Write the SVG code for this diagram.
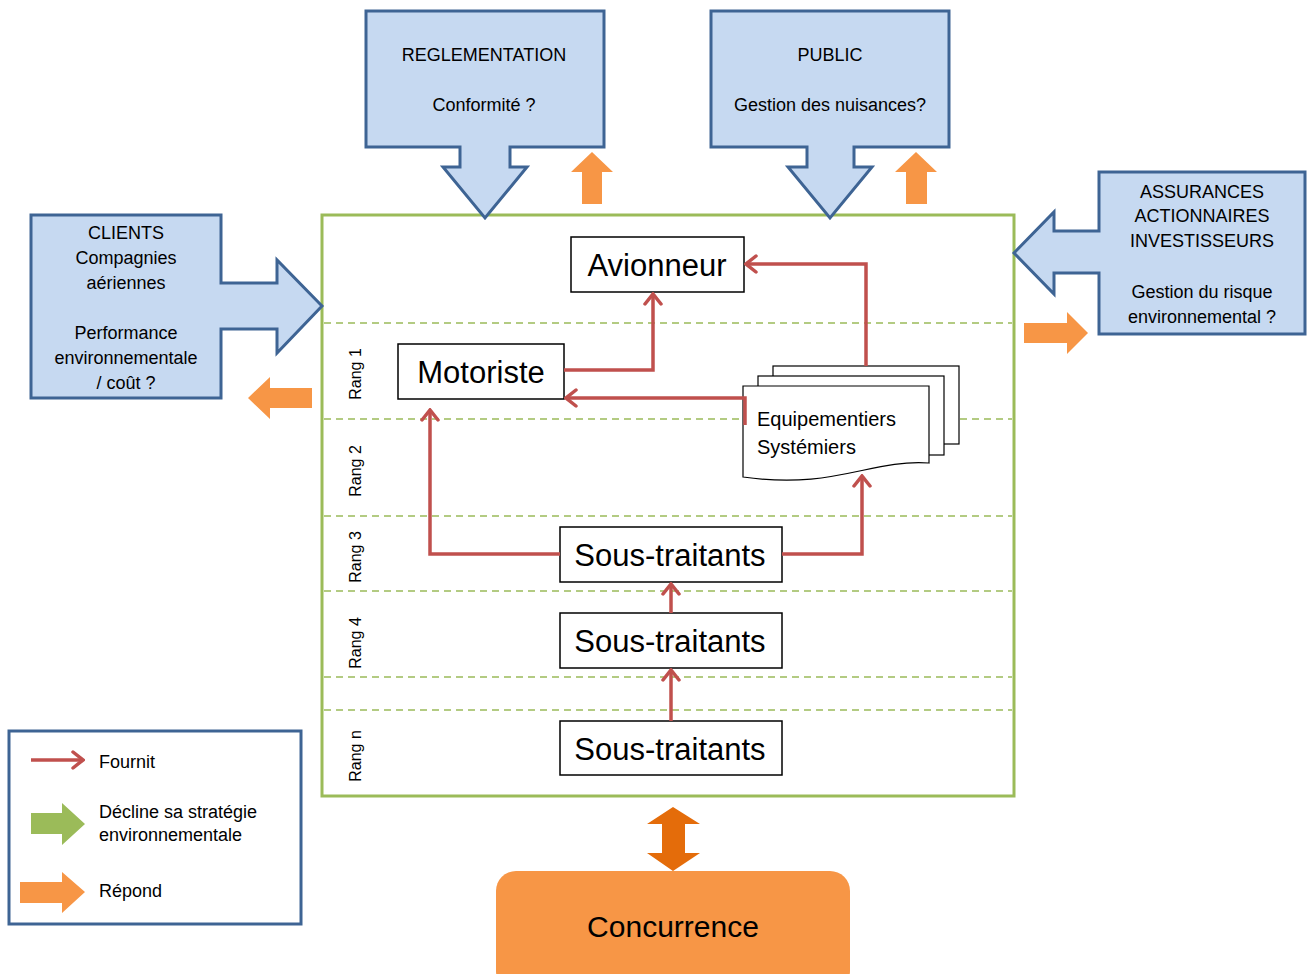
<svg xmlns="http://www.w3.org/2000/svg" width="1312" height="974" viewBox="0 0 1312 974">
<style>
text{font-family:"Liberation Sans",Arial,sans-serif;fill:#000}
.call{fill:#C6D9F1;stroke:#3E6494;stroke-width:3;stroke-linejoin:miter}
.t18{font-size:18px;text-anchor:middle}
.big{font-size:31px;text-anchor:middle}
.box{fill:#fff;stroke:#000;stroke-width:1.5}
.doc{fill:#fff;stroke:#000;stroke-width:1.2}
.sep{stroke:#9BBB59;stroke-width:1.5;stroke-dasharray:7 5;fill:none}
.rang{font-size:16px;text-anchor:middle}
.red{fill:none;stroke:#C0504D;stroke-width:3.5;marker-end:url(#ah)}
.orange{fill:#F79646}
.leg{font-size:18px}
</style>
<defs>
<marker id="ah" markerUnits="userSpaceOnUse" viewBox="-14 -10 16 20" markerWidth="16" markerHeight="20" refX="0" refY="0" orient="auto">
<path d="M-10 -8 L0 0 L-10 8" fill="none" stroke="#C0504D" stroke-width="3.5" stroke-linecap="round"/>
</marker>
</defs>

<!-- main frame -->
<g id="frame">
<rect x="322" y="215" width="692" height="581" fill="#fff" stroke="#9BBB59" stroke-width="3"/>
<path class="sep" d="M324 323H1012M324 419H1012M324 516H1012M324 591H1012M324 677H1012M324 710H1012"/>
<text class="rang" transform="translate(361 374) rotate(-90)">Rang 1</text>
<text class="rang" transform="translate(361 471) rotate(-90)">Rang 2</text>
<text class="rang" transform="translate(361 557) rotate(-90)">Rang 3</text>
<text class="rang" transform="translate(361 643) rotate(-90)">Rang 4</text>
<text class="rang" transform="translate(361 756) rotate(-90)">Rang n</text>
</g>

<!-- callouts -->
<g id="reglementation">
<path class="call" d="M366 11H604V147H510V167H527L485 218L443 167H460V147H366Z"/>
<text class="t18" x="484" y="61">REGLEMENTATION</text>
<text class="t18" x="484" y="111">Conformité ?</text>
</g>
<g id="public">
<path class="call" d="M711 11H949V147H854V167H872L830 218L788 167H807V147H711Z"/>
<text class="t18" x="830" y="61">PUBLIC</text>
<text class="t18" x="830" y="111">Gestion des nuisances?</text>
</g>
<g id="clients">
<path class="call" d="M31 215H221V283H277V260L322 306L277 353V329H221V398H31Z"/>
<text class="t18" x="126" y="239">CLIENTS</text>
<text class="t18" x="126" y="264">Compagnies</text>
<text class="t18" x="126" y="289">aériennes</text>
<text class="t18" x="126" y="339">Performance</text>
<text class="t18" x="126" y="364">environnementale</text>
<text class="t18" x="126" y="389">/ coût ?</text>
</g>
<g id="assurances">
<path class="call" d="M1099 172H1305V334H1099V273H1054V294L1014 253L1054 212V231H1099Z"/>
<text class="t18" x="1202" y="198">ASSURANCES</text>
<text class="t18" x="1202" y="222">ACTIONNAIRES</text>
<text class="t18" x="1202" y="247">INVESTISSEURS</text>
<text class="t18" x="1202" y="298">Gestion du risque</text>
<text class="t18" x="1202" y="323">environnemental ?</text>
</g>

<!-- orange response arrows -->
<g id="responses">
<path class="orange" d="M582 204V172H571L592 152L613 172H602V204Z"/>
<path class="orange" d="M906 204V172H895L916 152L937 172H927V204Z"/>
<path class="orange" d="M312 388H270V377L248 398L270 419V408H312Z"/>
<path class="orange" d="M1024 323H1067V312L1088 333L1067 354V343H1024Z"/>
<path fill="#E46C0A" d="M673 807L700 824H685V853H700L673 871L647 853H662V824H647Z"/>
</g>

<!-- nodes -->
<g id="avionneur">
<rect class="box" x="571" y="237" width="173" height="55"/>
<text class="big" x="657" y="276">Avionneur</text>
</g>
<g id="motoriste">
<rect class="box" x="398" y="344" width="166" height="55"/>
<text class="big" x="481" y="383">Motoriste</text>
</g>
<g id="equipementiers">
<rect class="doc" x="773" y="366" width="186" height="78"/>
<rect class="doc" x="758" y="376" width="186" height="79"/>
<path class="doc" d="M743 386H929V463C870 459 835 490 743 477Z"/>
<text font-size="20" x="757" y="426">Equipementiers</text>
<text font-size="20" x="757" y="454">Systémiers</text>
</g>
<g id="sous-traitants-3">
<rect class="box" x="560" y="527" width="222" height="55"/>
<text class="big" x="670" y="566">Sous-traitants</text>
</g>
<g id="sous-traitants-4">
<rect class="box" x="560" y="613" width="222" height="55"/>
<text class="big" x="670" y="652">Sous-traitants</text>
</g>
<g id="sous-traitants-n">
<rect class="box" x="560" y="721" width="222" height="54"/>
<text class="big" x="670" y="760">Sous-traitants</text>
</g>

<!-- connectors -->
<g id="connectors">
<path class="red" d="M564 370H653V294"/>
<path class="red" d="M866 366V264H746"/>
<path class="red" d="M745 425V398H566"/>
<path class="red" d="M560 554H430V410"/>
<path class="red" d="M782 554H862V476"/>
<path class="red" d="M671 613V584"/>
<path class="red" d="M671 721V670"/>
</g>

<!-- concurrence -->
<g id="concurrence">
<rect x="496" y="871" width="354" height="120" rx="20" fill="#F79646"/>
<text font-size="30" text-anchor="middle" x="673" y="937">Concurrence</text>
</g>

<!-- legend -->
<g id="legend">
<rect x="9" y="731" width="292" height="193" fill="#fff" stroke="#3E6494" stroke-width="3"/>
<path class="red" d="M31 760H83"/>
<text class="leg" x="99" y="768">Fournit</text>
<path fill="#9BBB59" d="M31 813H62V803L85 824L62 845V834H31Z"/>
<text class="leg" x="99" y="818">Décline sa stratégie</text>
<text class="leg" x="99" y="841">environnementale</text>
<path class="orange" d="M20 882H62V872L85 892L62 913V903H20Z"/>
<text class="leg" x="99" y="897">Répond</text>
</g>
</svg>
